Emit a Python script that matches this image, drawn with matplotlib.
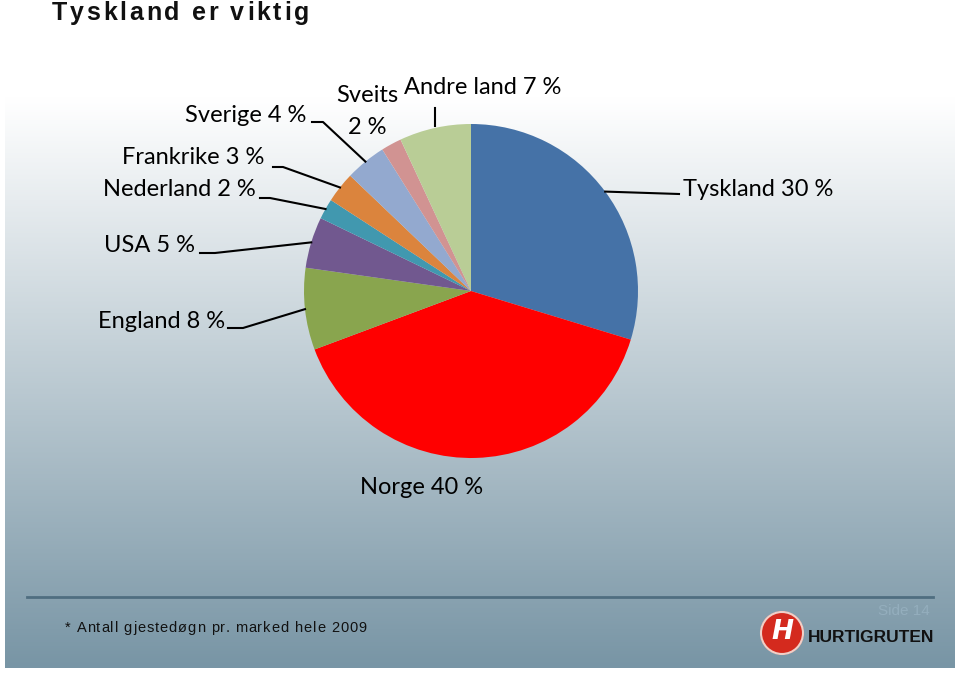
import numpy as np
import matplotlib.pyplot as plt
from matplotlib.patches import Circle

markets = ['Tyskland', 'Norge', 'England', 'USA', 'Nederland', 'Frankrike', 'Sverige', 'Sveits', 'Andre land']
shares = [30, 40, 8, 5, 2, 3, 4, 2, 7]
colors = ['#4572A7', '#FF0000', '#89A54E', '#71588F', '#4198AF', '#DB843D', '#93A9CF', '#D19392', '#B9CD96']

W, H = 959, 675
fig = plt.figure(figsize=(W / 100, H / 100), dpi=100)

# background panel with vertical gradient
bg = fig.add_axes([0, 0, 1, 1])
bg.set_xlim(0, W)
bg.set_ylim(H, 0)
bg.axis('off')
top = np.array([255, 255, 255]) / 255
bot = np.array([120, 149, 165]) / 255
t = np.clip((np.linspace(0, 1, 300)[:, None] - 0.07) / 0.93, 0, 1)
grad = top + (bot - top) * t
bg.imshow(grad[:, None, :], extent=[5, 955, 668, 55], aspect='auto', zorder=0)
bg.plot([27, 933], [597, 597], color='#4f6e80', lw=2, zorder=1)

renderer = fig.canvas.get_renderer()


def spaced(x, y, s, gap, **kw):
    # draw text one char at a time with extra letter spacing (in pixels)
    for ch in s:
        tx = bg.text(x, y, ch, ha='left', va='center', **kw)
        w = tx.get_window_extent(renderer).width
        if ch == ' ':
            w = tx.get_fontsize() * 0.28 * 100 / 72
        x += w + gap


spaced(52, 13, 'Tyskland er viktig', 2.7, fontsize=18, fontweight='bold',
       family='Liberation Sans', color='#111111')
spaced(65, 628, '* Antall gjestedøgn pr. marked hele 2009', 0.9, fontsize=10.5,
       family='Liberation Sans', color='#111111')
bg.text(930, 611, 'Side 14', fontsize=11, family='Liberation Sans', va='center', ha='right', color='#94aebd')

# logo
bg.add_patch(Circle((782, 633), 21, color='#d42a1e', zorder=2))
bg.add_patch(Circle((782, 633), 21, fill=False, ec='#f0d0c8', lw=1.5, zorder=3))
bg.text(782, 632, 'H', fontsize=19, fontweight='bold', style='italic', family='DejaVu Sans',
        color='white', ha='center', va='center', zorder=4)
bg.text(808, 638, 'HURTIGRUTEN', fontsize=12.5, fontweight='bold', family='Liberation Sans',
        color='#111111', ha='left', va='center')

# pie
cx, cy, r = 471, 291, 167
ax = fig.add_axes([(cx - r) / W, (H - cy - r) / H, 2 * r / W, 2 * r / H])
wedges, _ = ax.pie(shares, colors=colors, startangle=90, counterclock=False, radius=1)
ax.set_xlim(-1, 1)
ax.set_ylim(-1, 1)
ax.set_aspect('auto')
ax.axis('off')


def px(x, y):
    return ((x - cx) / r, (cy - y) / r)


def mid(i, rad=1.0):
    w = wedges[i]
    a = np.deg2rad((w.theta1 + w.theta2) / 2)
    return rad * np.cos(a), rad * np.sin(a)


fs = 17
font = 'Lato'
lab = {m: '%s %d %%' % (m, s) for m, s in zip(markets, shares)}

# Tyskland
x, y = px(683, 189)
ax.text(x, y, lab['Tyskland'], fontsize=fs, family=font, ha='left', va='center', clip_on=False)
p0 = mid(0)
p1 = px(679, 194)
ax.plot([p0[0], p1[0]], [p0[1], p1[1]], color='black', lw=1.5, clip_on=False)

# Norge
x, y = px(422, 488)
ax.text(x, y, lab['Norge'], fontsize=fs, family=font, ha='center', va='center', clip_on=False)

# left side labels: index, text right end, line start, elbow
left = [(2, (225, 322), (228, 328), (243, 328)),
        (3, (195, 246), (200, 253), (215, 253)),
        (4, (256, 190), (260, 198), (270, 198)),
        (5, (264, 158), (273, 167), (283, 167)),
        (6, (306, 115), (312, 122), (323, 122))]
for i, tp, a, b in left:
    x, y = px(*tp)
    ax.text(x, y, lab[markets[i]], fontsize=fs, family=font, ha='right', va='center', clip_on=False)
    pa, pb, pc = px(*a), px(*b), mid(i)
    ax.plot([pa[0], pb[0], pc[0]], [pa[1], pb[1], pc[1]], color='black', lw=1.5, clip_on=False)

# Sveits
x, y = px(367, 95)
ax.text(x, y, markets[7], fontsize=fs, family=font, ha='center', va='center', clip_on=False)
x, y = px(367, 127)
ax.text(x, y, '%d %%' % shares[7], fontsize=fs, family=font, ha='center', va='center', clip_on=False)

# Andre land
x, y = px(404, 88)
ax.text(x, y, lab['Andre land'], fontsize=fs, family=font, ha='left', va='center', clip_on=False)
pe = mid(8, 1.01)
ax.plot([pe[0], pe[0]], [px(0, 108)[1], pe[1]], color='black', lw=1.5, clip_on=False)

plt.savefig('out.png', dpi=100)
